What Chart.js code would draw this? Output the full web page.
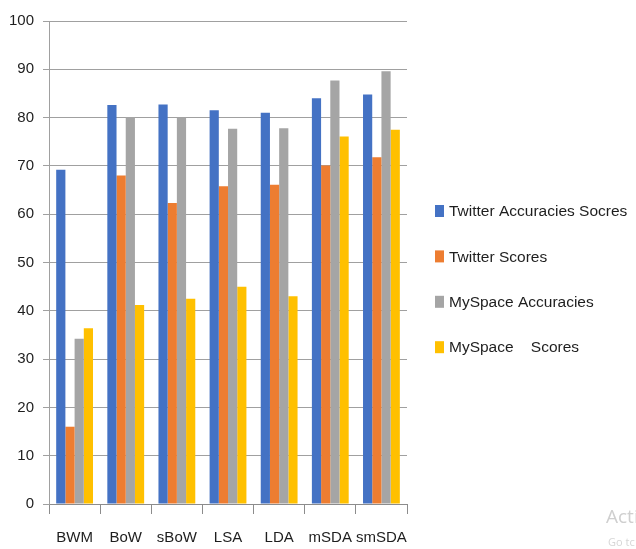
<!DOCTYPE html>
<html>
<head>
<meta charset="utf-8">
<script src="https://cdn.jsdelivr.net/npm/chart.js@4/dist/chart.umd.min.js"></script>
<style>
  html,body{margin:0;padding:0;background:#fff;}
  #wrap{position:relative;width:636px;height:549px;}
  canvas{display:block;}
  .wm1{position:absolute;left:606px;top:503px;font:19px "Open Sans",sans-serif;color:#cfcfcf;}
  .wm2{position:absolute;left:608px;top:534px;font:11px "Open Sans",sans-serif;color:#d6d6d6;}
</style>
</head>
<body>
<div id="wrap">
<canvas id="c" width="636" height="549"></canvas>
<div class="wm1">Acti</div>
<div class="wm2">Go tc</div>
</div>
<script>
const categories = ["BWM", "BoW", "sBoW", "LSA", "LDA", "mSDA", "smSDA"];
const seriesNames = ["Twitter Accuracies Socres", "Twitter Scores", "MySpace Accuracies", "MySpace    Scores"];
const twitterAccuracies = [69.2, 82.6, 82.7, 81.5, 81.0, 84.0, 84.8];
const twitterScores     = [16.0, 68.0, 62.3, 65.8, 66.1, 70.1, 71.8];
const myspaceAccuracies = [34.2, 80.1, 80.0, 77.7, 77.8, 87.7, 89.6];
const myspaceScores     = [36.4, 41.2, 42.5, 45.0, 43.0, 76.1, 77.5];
const yTicks = [0, 10, 20, 30, 40, 50, 60, 70, 80, 90, 100];
const colors = ["#4472C4", "#ED7D31", "#A5A5A5", "#FFC000"];

const values = [twitterAccuracies, twitterScores, myspaceAccuracies, myspaceScores];
const FONT = "'Liberation Sans', Arial, sans-serif";
const TEXT = "#1e1e1e";

// Legend drawn on the canvas from the chart's own datasets
const sideLegend = {
  id: "sideLegend",
  afterDraw(chart) {
    const ctx = chart.ctx;
    const area = chart.chartArea;
    const x0 = area.right + 28;
    const yStart = 211, step = 45.4;
    ctx.save();
    ctx.font = "15.5px " + FONT;
    ctx.textBaseline = "middle";
    ctx.textAlign = "left";
    chart.data.datasets.forEach((ds, i) => {
      const y = yStart + i * step;
      ctx.fillStyle = ds.backgroundColor;
      ctx.fillRect(x0, y - 6, 9, 12);
      ctx.fillStyle = TEXT;
      ctx.fillText(ds.label, x0 + 14, y + 1);
    });
    ctx.restore();
  }
};

new Chart(document.getElementById("c"), {
  type: "bar",
  data: {
    labels: categories,
    datasets: seriesNames.map((n, i) => ({
      label: n,
      data: values[i],
      backgroundColor: colors[i],
      borderWidth: 0,
      barPercentage: 1.0,
      categoryPercentage: 0.72
    }))
  },
  plugins: [sideLegend],
  options: {
    responsive: false,
    animation: false,
    layout: { padding: { left: 0, top: 21, right: 229, bottom: -13 } },
    plugins: {
      tooltip: { enabled: false },
      legend: { display: false }
    },
    scales: {
      x: {
        grid: { display: true, drawOnChartArea: false, drawTicks: true, tickLength: 10, color: "#8c8c8c" },
        border: { display: true, color: "#8c8c8c" },
        ticks: { color: TEXT, font: { family: FONT, size: 15 }, padding: 15, maxRotation: 0, autoSkip: false }
      },
      y: {
        min: 0, max: 100,
        afterBuildTicks: (s) => { s.ticks = yTicks.map(v => ({ value: v })); },
        grid: { color: "#a0a0a0", tickLength: 6, drawTicks: true },
        border: { display: true, color: "#a0a0a0" },
        ticks: { color: TEXT, font: { family: FONT, size: 15 }, padding: 9 }
      }
    }
  }
});
</script>
</body>
</html>
